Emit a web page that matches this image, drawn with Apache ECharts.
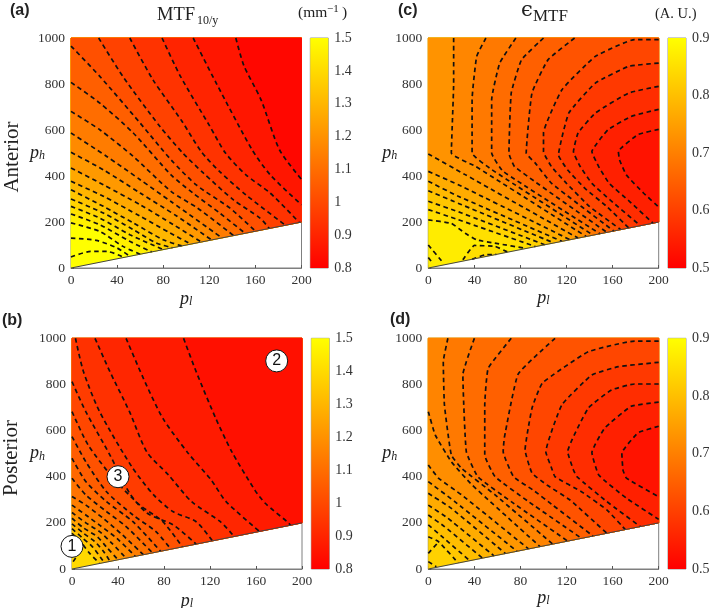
<!DOCTYPE html>
<html><head><meta charset="utf-8">
<style>html,body{margin:0;padding:0;background:#fff}#c{width:709px;height:608px}</style>
<script src="https://cdn.jsdelivr.net/npm/echarts@6/dist/echarts.min.js"></script>
</head><body><div id="c"></div>
<script>
// Contour levels and contour polylines: [p_l, p_h]
const aLevels=[0.84,0.88,0.92,0.96,1.0,1.04,1.08,1.12,1.16,1.2,1.24,1.28,1.32,1.36,1.4,1.44,1.48,1.52,1.56];
const aContours=[
[[143,1000],[150,880],[165,730],[181,513],[200,385]],
[[106,1000],[126,804],[157,515],[173,404],[200,275]],
[[79,1000],[95,833],[120,620],[134,500],[152,404],[173,325],[198,198]],
[[51,1000],[71,819],[96,640],[113,506],[129,419],[152,317],[186,186]],
[[24,1000],[45,833],[77,616],[97,500],[115,412],[141,296],[164,217],[172,172]],
[[0,965],[25,833],[60,630],[87,469],[109,360],[138,260],[160,160]],
[[0,807],[25,717],[54,587],[87,404],[106,325],[129,239],[151,151]],
[[0,681],[25,601],[54,485],[87,332],[110,260],[141,141]],
[[0,587],[31,485],[60,384],[87,288],[131,131]],
[[0,503],[28,427],[60,326],[92,225],[122,122]],
[[0,435],[28,362],[60,275],[89,188],[113,113]],
[[0,377],[28,312],[60,225],[86,152],[104,104]],
[[0,340],[28,268],[54,196],[80,123],[96,96]],
[[0,300],[28,239],[54,167],[74,109],[88,88]],
[[0,268],[25,217],[51,145],[80,80]],
[[0,235],[25,188],[51,116],[70,70]],
[[0,196],[25,159],[45,94],[60,60]],
[[0,130],[22,120],[40,87],[51,51]],
[[0,48],[17,72],[31,72],[46,46]]];

const bLevels=[0.86,0.89,0.92,0.95,0.98,1.01,1.04,1.07,1.10,1.13,1.16,1.19,1.23,1.27,1.32,1.37];
const bContours=[
[[97,1000],[108,855],[125,653],[139,508],[159,342],[168,285],[187,205],[190,190]],
[[47,1000],[62,827],[79,653],[101,502],[121,386],[134,292],[163,163]],
[[20,1000],[33,855],[50,682],[65,508],[84,407],[104,292],[129,205],[141,141]],
[[3,1000],[10,855],[24,682],[52,443],[71,321],[88,248],[108,205],[122,122]],
[[0,812],[12,682],[33,494],[50,329],[65,243],[88,191],[108,108]],
[[0,682],[14,538],[36,393],[59,277],[79,205],[96,96]],
[[0,574],[12,465],[30,335],[53,234],[73,162],[86,86]],
[[0,480],[12,379],[30,292],[53,205],[77,77]],
[[0,393],[12,321],[30,249],[47,184],[70,70]],
[[0,314],[12,277],[27,220],[44,147],[62,62]],
[[0,277],[12,234],[24,190],[39,133],[55,55]],
[[0,245],[12,200],[24,162],[35,110],[47,47]],
[[0,220],[10,178],[22,140],[30,95],[40,40]],
[[0,196],[10,155],[20,118],[28,72],[33,33]],
[[0,175],[9,135],[18,95],[28,28]],
[[0,155],[8,115],[15,70],[24,24]]];
const bLoops=[[[1,32],[7,75]]];
const bLoopLevels=[1.40];

const cLevels=[0.54,0.56,0.58,0.60,0.62,0.64,0.66,0.68,0.70,0.72,0.74,0.76,0.78,0.80,0.82,0.84,0.86];
const cContours=[
[[200,603],[182,580],[165,506],[166,470],[172,404],[187,325],[200,265]],
[[200,690],[176,659],[156,601],[142,506],[148,440],[157,368],[175,288],[195,195]],
[[200,790],[174,761],[145,674],[130,587],[126,506],[132,440],[142,368],[158,295],[184,184]],
[[200,891],[174,877],[145,804],[122,674],[113,491],[121,426],[136,346],[155,267],[174,174]],
[[200,993],[179,993],[145,920],[116,775],[100,587],[100,506],[107,440],[120,368],[140,267],[167,167]],
[[127,1000],[104,906],[90,761],[85,500],[93,455],[107,368],[161,161]],
[[100,1000],[81,906],[72,761],[70,500],[75,440],[155,155]],
[[76,1000],[62,891],[55,732],[55,500],[65,420],[149,149]],
[[50,1000],[42,920],[38,732],[38,500],[55,428],[143,143]],
[[22,1000],[22,804],[20,500],[41,442],[137,137]],
[[0,496],[32,406],[130,130]],
[[0,420],[26,362],[123,123]],
[[0,377],[26,312],[116,116]],
[[0,336],[29,275],[109,109]],
[[0,290],[29,239],[101,101]],
[[0,254],[26,210],[93,93]],
[[0,209],[20,194],[32,151],[42,122],[59,107],[85,85]]];
const cLoops=[[[30,36],[40,98],[58,94],[69,69]],[[38,38],[49,57],[59,59]],[[0,100],[12,28]],[[0,46],[4,20]]];
const cLoopLevels=[0.86,0.84,0.88,0.86];

const dLevels=[0.54,0.56,0.58,0.60,0.62,0.64,0.66,0.68,0.70,0.715,0.73,0.745,0.76,0.775,0.79,0.805,0.82];
const dContours=[
[[200,619],[182,590],[168,502],[169,429],[172,394],[200,313]],
[[200,723],[176,705],[153,610],[142,505],[148,407],[172,307],[200,215]],
[[200,802],[179,802],[159,776],[139,698],[121,508],[126,429],[129,400],[155,292],[184,184]],
[[200,896],[165,877],[142,841],[116,712],[102,508],[107,438],[110,400],[133,335],[155,256],[171,171]],
[[200,988],[179,988],[139,942],[99,806],[90,697],[84,516],[90,416],[103,364],[123,299],[155,155]],
[[110,1000],[78,845],[66,569],[65,509],[74,400],[91,342],[108,277],[143,143]],
[[72,1000],[52,870],[49,711],[49,494],[58,400],[87,292],[133,133]],
[[40,1000],[30,842],[33,509],[43,400],[72,292],[121,121]],
[[17,1000],[13,899],[14,711],[20,494],[29,436],[58,321],[108,108]],
[[0,682],[6,581],[20,465],[38,364],[97,97]],
[[0,451],[9,393],[29,321],[87,87]],
[[0,379],[23,292],[77,77]],
[[0,328],[20,263],[67,67]],
[[0,277],[17,220],[57,57]],
[[0,234],[14,184],[47,47]],
[[0,191],[12,140],[36,36]],
[[0,140],[9,118],[26,26]]];
const dLoops=[[[0,68],[9,118]],[[0,32],[7,10]]];
const dLoopLevels=[0.82,0.82];

const xTicksMax=200, yTicksMax=1000;
const mtfRange=[0.8,1.5], effRange=[0.5,0.9];
const markerNames=['1','2','3'];
const markerPoints=[[0,98],[178,902],[40,400]];

const SERIF='"Liberation Serif","DejaVu Serif",serif';
const domainPoly=[[0,0],[0,1000],[200,1000],[200,200]];
function col(v,r){const t=Math.max(0,Math.min(1,(v-r[0])/(r[1]-r[0])));return 'rgb(255,'+Math.round(255*t)+',0)';}
function lowSide(p){const o=p.slice(),f=p[0],l=p[p.length-1];
  if(l[0]<200)o.push([200,200]);
  if(f[0]<200){o.push([200,1000]);if(f[0]===0)o.push([0,1000]);}
  return o;}

const panels=[
 {l:71,t:38,w:230.5,h:230,levels:aLevels,cs:aContours,loops:[],loopLevels:[],r:mtfRange,cb:310.3,nameGap:26,xGap:22,smooth:.25},
 {l:72,t:338.3,w:230,h:230.7,levels:bLevels,cs:bContours,loops:bLoops,loopLevels:bLoopLevels,r:mtfRange,cb:311.3,nameGap:27,xGap:23,smooth:.25,markers:true},
 {l:428.3,t:38,w:230.4,h:230,levels:cLevels,cs:cContours,loops:cLoops,loopLevels:cLoopLevels,r:effRange,cb:668,nameGap:31,xGap:21,smooth:.12},
 {l:428.3,t:338.3,w:230.4,h:230.7,levels:dLevels,cs:dContours,loops:dLoops,loopLevels:dLoopLevels,r:effRange,cb:668,nameGap:31,xGap:20,smooth:.12}
];
const grid=[],xAxis=[],yAxis=[],series=[];
const axisLine={show:true,lineStyle:{color:'#7f7f7f',width:1}};
const nameRich={p:{fontFamily:SERIF,fontStyle:'italic',fontSize:18,color:'#222'},s:{fontFamily:SERIF,fontStyle:'italic',fontSize:12,color:'#222',verticalAlign:'bottom'}};
panels.forEach((P,i)=>{
  const gi=grid.length;
  grid.push({left:P.l,top:P.t,width:P.w,height:P.h,show:true,borderColor:'#7f7f7f',borderWidth:1,backgroundColor:'#fff',outerBoundsMode:'none'});
  xAxis.push({type:'value',gridIndex:gi,min:0,max:xTicksMax,interval:40,splitLine:{show:false},axisLine,
    axisTick:{inside:true,length:3,lineStyle:{color:'#555'}},axisLabel:{color:'#333',fontFamily:SERIF,fontSize:13.5,margin:5,formatter:v=>String(v)},
    name:'{p|p}{s|l}',nameLocation:'middle',nameGap:P.xGap,nameMoveOverlap:false,nameTextStyle:{rich:nameRich}});
  yAxis.push({type:'value',gridIndex:gi,min:0,max:yTicksMax,interval:200,splitLine:{show:false},axisLine,
    axisTick:{inside:true,length:3,lineStyle:{color:'#555'}},axisLabel:{color:'#333',fontFamily:SERIF,fontSize:13.5,margin:6,formatter:v=>String(v)},
    name:'{p|p}{s|h}',nameLocation:'middle',nameRotate:0,nameGap:P.nameGap,nameMoveOverlap:false,nameTextStyle:{rich:nameRich}});
  // filled bands, painted from the highest level downward
  const step=P.levels[1]-P.levels[0], n=P.levels.length;
  const polys=[{pts:domainPoly,v:P.levels[n-1]+(P.levels[n-1]-P.levels[n-2])/2}];
  for(let k=n-1;k>=0;k--){
    const below=k>0?P.levels[k-1]:P.levels[0]-step;
    polys.push({pts:lowSide(P.cs[k]),v:(P.levels[k]+below)/2});
  }
  P.loops.forEach((lp,k)=>{if(lp.length>2)polys.push({pts:lp,v:P.loopLevels[k]-0.01});});
  series.push({type:'custom',xAxisIndex:gi,yAxisIndex:gi,coordinateSystem:'cartesian2d',silent:true,z:2,
    data:polys.map((q,j)=>[j]),encode:{x:-1,y:-1},
    renderItem(params,api){const q=polys[params.dataIndex];
      return {type:'polygon',shape:{points:q.pts.map(pt=>api.coord(pt))},style:{fill:col(q.v,P.r),stroke:col(q.v,P.r),lineWidth:.4}};}});
  P.cs.concat(P.loops).forEach(c=>series.push({type:'line',xAxisIndex:gi,yAxisIndex:gi,data:c,showSymbol:false,smooth:P.smooth,silent:true,z:4,
    lineStyle:{color:'#111',width:1.7,type:[4.5,3.5]}}));
  series.push({type:'line',xAxisIndex:gi,yAxisIndex:gi,data:[[0,0],[200,200]],showSymbol:false,silent:true,z:5,lineStyle:{color:'#444',width:1}});
  if(P.markers)series.push({type:'scatter',xAxisIndex:gi,yAxisIndex:gi,clip:false,silent:true,z:6,symbol:'circle',symbolSize:22,
    data:markerPoints.map((m,j)=>({value:m,name:markerNames[j]})),itemStyle:{color:'#fff',borderColor:'#111',borderWidth:1,opacity:1},
    label:{show:true,position:'inside',formatter:'{b}',color:'#111',fontFamily:'"Liberation Sans",sans-serif',fontSize:16}});
  // colour bar
  const bi=grid.length;
  grid.push({left:P.cb,top:P.t,width:18,height:P.h,show:true,borderColor:'#999',borderWidth:1,outerBoundsMode:'none'});
  xAxis.push({type:'value',gridIndex:bi,min:0,max:1,show:false});
  yAxis.push({type:'value',gridIndex:bi,position:'right',min:P.r[0],max:P.r[1],interval:.1,splitLine:{show:false},axisLine:{show:false},
    axisTick:{show:false},axisLabel:{color:'#333',fontFamily:SERIF,fontSize:14,margin:6}});
  series.push({type:'custom',xAxisIndex:bi,yAxisIndex:bi,silent:true,z:3,data:[[0,P.r[0],1,P.r[1]]],encode:{x:-1,y:-1},
    renderItem(params,api){const a=api.coord([0,P.r[0]]),b=api.coord([1,P.r[1]]);
      return {type:'rect',shape:{x:a[0],y:b[1],width:b[0]-a[0],height:a[1]-b[1]},
        style:{fill:new echarts.graphic.LinearGradient(0,0,0,1,[{offset:0,color:'#ffff00'},{offset:1,color:'#ff0000'}])}};}});
});
function txt(x,y,text,font,size,extra){return Object.assign({type:'text',x,y,z:20,silent:true,style:Object.assign({text,fill:'#222',fontFamily:font,fontSize:size,align:'left',verticalAlign:'middle'},extra||{})});}
const SANS='"Liberation Sans",Arial,sans-serif';
const graphic=[
 txt(10,11,'(a)',SANS,16,{fontWeight:'bold'}),txt(398,11,'(c)',SANS,16,{fontWeight:'bold'}),
 txt(2,321,'(b)',SANS,16,{fontWeight:'bold'}),txt(390,320,'(d)',SANS,16,{fontWeight:'bold'}),
 txt(157,15,'MTF',SERIF,18.5),txt(197,21,'10/y',SERIF,12),
 txt(298,13,'(mm',SERIF,15.5),txt(327,9,'−1',SERIF,11),txt(342,13,')',SERIF,15.5),
 txt(521,11,'ϵ','"DejaVu Serif",serif',21),txt(533,17,'MTF',SERIF,17),
 txt(655,14,'(A. U.)',SERIF,14.5),
 Object.assign(txt(12,157,'Anterior',SERIF,21,{align:'center'}),{rotation:Math.PI/2}),
 Object.assign(txt(11,458,'Posterior',SERIF,21,{align:'center'}),{rotation:Math.PI/2})
];
const chart=echarts.init(document.getElementById('c'),null,{renderer:'canvas'});
chart.setOption({animation:false,backgroundColor:'#fff',grid,xAxis,yAxis,series,graphic});
</script></body></html>
